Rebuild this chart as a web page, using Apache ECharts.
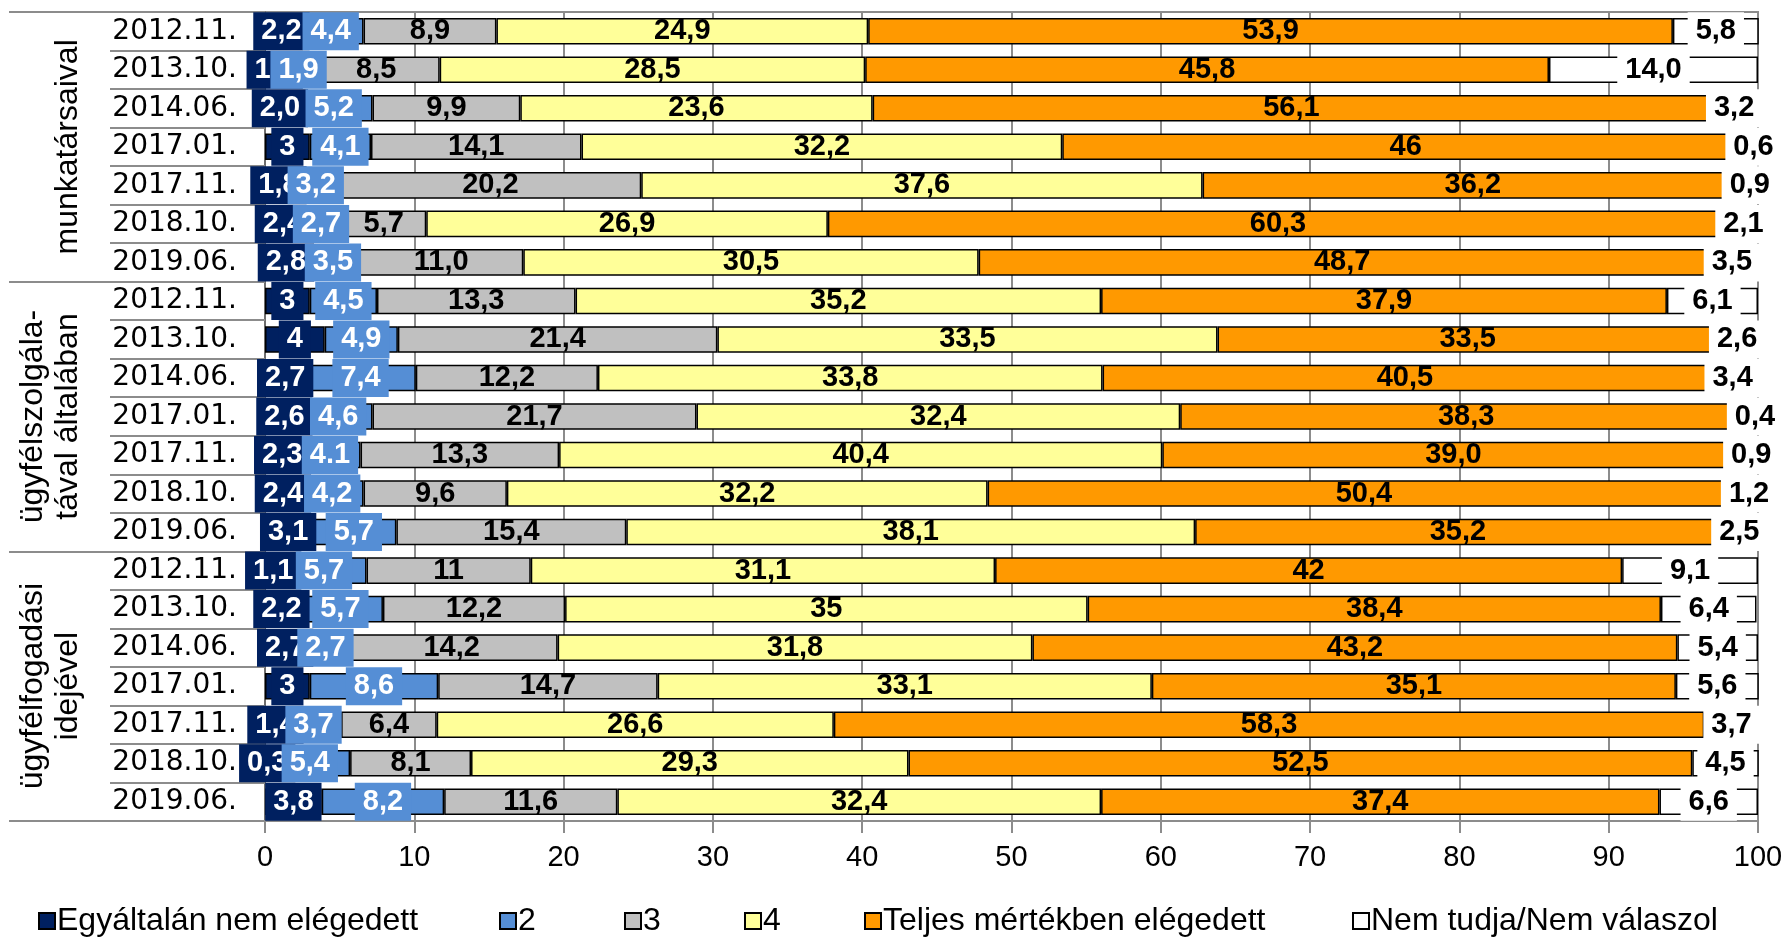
<!DOCTYPE html>
<html><head><meta charset="utf-8">
<script src="https://cdn.jsdelivr.net/npm/echarts@6/dist/echarts.min.js"></script>
<style>html,body{margin:0;padding:0;background:#fff}#c{width:1789px;height:939px}</style>
</head><body><div id="c"></div>
<script>
const categories = ['2012.11.','2013.10.','2014.06.','2017.01.','2017.11.','2018.10.','2019.06.',
                    '2012.11.','2013.10.','2014.06.','2017.01.','2017.11.','2018.10.','2019.06.',
                    '2012.11.','2013.10.','2014.06.','2017.01.','2017.11.','2018.10.','2019.06.'];
const groups = ['munkatársaival', 'ügyfélszolgála-\ntával általában', 'ügyfélfogadási\nidejével'];
const seriesNames = ['Egyáltalán nem elégedett','2','3','4','Teljes mértékben elégedett','Nem tudja/Nem válaszol'];
// values as printed on the chart (Hungarian decimal comma)
const v1 = ['2,2','1,3','2,0','3','1,8','2,4','2,8', '3','4','2,7','2,6','2,3','2,4','3,1', '1,1','2,2','2,7','3','1,4','0,3','3,8'];
const v2 = ['4,4','1,9','5,2','4,1','3,2','2,7','3,5', '4,5','4,9','7,4','4,6','4.1','4,2','5,7', '5,7','5,7','2,7','8,6','3,7','5,4','8,2'];
const v3 = ['8,9','8,5','9,9','14,1','20,2','5,7','11,0', '13,3','21,4','12,2','21,7','13,3','9,6','15,4', '11','12,2','14,2','14,7','6,4','8,1','11,6'];
const v4 = ['24,9','28,5','23,6','32,2','37,6','26,9','30,5', '35,2','33,5','33,8','32,4','40,4','32,2','38,1', '31,1','35','31,8','33,1','26,6','29,3','32,4'];
const v5 = ['53,9','45,8','56,1','46','36,2','60,3','48,7', '37,9','33,5','40,5','38,3','39,0','50,4','35,2', '42','38,4','43,2','35,1','58,3','52,5','37,4'];
const v6 = ['5,8','14,0','3,2','0,6','0,9','2,1','3,5', '6,1','2,6','3,4','0,4','0,9','1,2','2,5', '9,1','6,4','5,4','5,6','3,7','4,5','6,6'];
const xMin = 0, xMax = 100, xStep = 10;

const colors = ['#002060','#558ED5','#C0C0C0','#FFFF99','#FF9900','#FFFFFF'];
const toNum = s => Number(String(s).replace(',', '.'));
const allVals = [v1, v2, v3, v4, v5, v6];
const gridCol = '#8c8c8c';

const series = allVals.map((arr, i) => ({
  name: seriesNames[i],
  type: 'bar',
  stack: 'total',
  barCategoryGap: '31%',
  data: arr.map(toNum),
  itemStyle: { color: colors[i], borderColor: '#000', borderWidth: 1.5 },
  emphasis: { disabled: true },
  label: {
    show: true,
    position: 'inside',
    formatter: p => arr[p.dataIndex],
    fontFamily: 'Liberation Sans',
    fontWeight: 'bold',
    fontSize: 29,
    lineHeight: 28,
    color: i < 2 ? '#fff' : '#000',
    textBorderWidth: 0,
    backgroundColor: i < 2 ? colors[i] : (i === 5 ? '#fff' : 'transparent'),
    padding: [5, 8]
  }
}));

// one legend per item so each sits where the reference puts it
const legendLefts = [38, 499, 624, 744, 864, 1352];
const legends = seriesNames.map((n, i) => ({
  data: [n],
  left: legendLefts[i], top: 905, padding: 0,
  itemWidth: 16, itemHeight: 16, itemGap: 0,
  icon: 'rect',
  textStyle: { fontFamily: 'Liberation Sans', fontSize: 32, color: '#000', padding: [0, 0, 0, -3] }
}));

const chart = echarts.init(document.getElementById('c'), null, { renderer: 'canvas' });
chart.setOption({
  animation: false,
  backgroundColor: '#fff',
  grid: { left: 265, right: 31, top: 12, bottom: 118, show: true, borderColor: gridCol, borderWidth: 2, backgroundColor: 'transparent' },
  legend: legends,
  xAxis: {
    type: 'value', min: xMin, max: xMax, interval: xStep,
    axisLine: { show: true, lineStyle: { color: gridCol, width: 2 } },
    axisTick: { show: true, length: 12, lineStyle: { color: gridCol, width: 2 } },
    axisLabel: { fontFamily: 'Liberation Sans', fontSize: 29, color: '#000', margin: 22 },
    splitLine: { show: true, lineStyle: { color: gridCol, width: 2 } }
  },
  yAxis: [{
    type: 'category', data: categories, inverse: true,
    axisLine: { show: true, lineStyle: { color: '#6e6e6e', width: 2 } },
    axisTick: { show: true, length: 155, interval: 0, lineStyle: { color: gridCol, width: 2 } },
    axisLabel: { interval: 0, fontFamily: 'DejaVu Sans', fontSize: 28, color: '#000', margin: 28 }
  }, {
    type: 'category', data: groups, inverse: true, position: 'left', offset: 0,
    axisLine: { show: false },
    axisTick: { show: true, length: 256, interval: 0, lineStyle: { color: gridCol, width: 2 } },
    axisLabel: { interval: 0, rotate: 90, fontFamily: 'Liberation Sans', fontSize: 32, lineHeight: 35, color: '#000', margin: 179 }
  }],
  series: series
});
</script></body></html>
